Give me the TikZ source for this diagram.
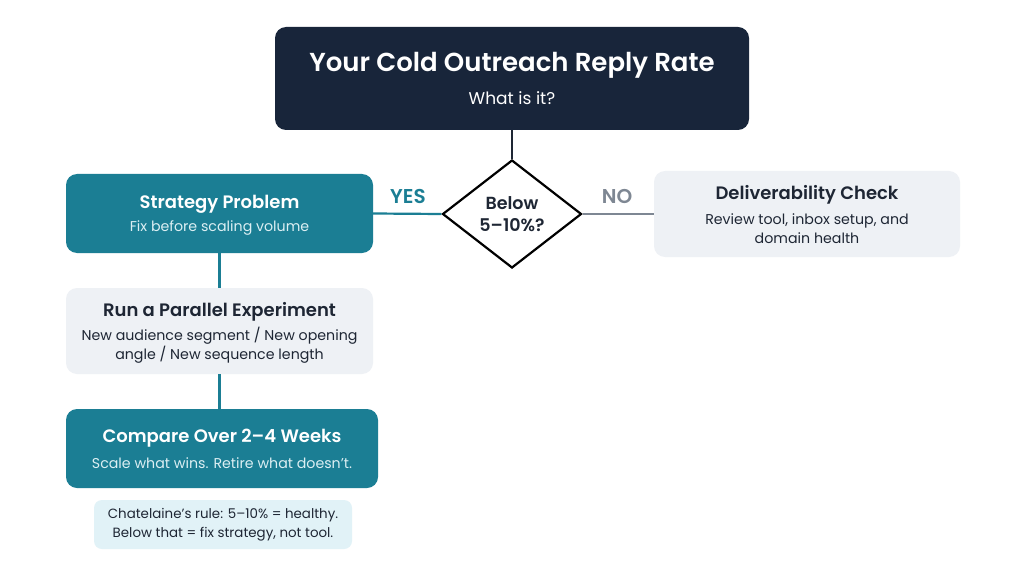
\documentclass[tikz,border=0pt]{standalone}
\usepackage{fontspec}
\setmainfont{Poppins}[BoldFont={Poppins SemiBold}]
\usetikzlibrary{shapes.geometric}
\definecolor{navy}{HTML}{18253A}
\definecolor{teal}{HTML}{1B7E94}
\definecolor{lightbox}{HTML}{EEF1F5}
\definecolor{notebox}{HTML}{E1F2F7}
\definecolor{darktext}{HTML}{1E2634}
\definecolor{grayline}{HTML}{7E8793}
\definecolor{tealtext}{HTML}{DCEFF3}
\tikzset{
  x=1pt, y=-1pt,
  box/.style={rounded corners=11pt, inner sep=0pt, align=center},
  darkbox/.style={box, fill=navy, text=white},
  tealbox/.style={box, fill=teal, text=white},
  graybox/.style={box, fill=lightbox, text=darktext},
  nbox/.style={box, fill=notebox, text=darktext, rounded corners=8pt},
  conn/.style={line width=2.2pt},
  ttl/.style={font=\fontsize{18}{22}\selectfont\bfseries, align=center},
  sub/.style={font=\fontsize{14.2}{18.5}\selectfont, align=center},
}
\begin{document}
\begin{tikzpicture}
\useasboundingbox[fill=white] (0,0) rectangle (1024,572);
% title
\node[darkbox, minimum width=474pt, minimum height=103pt] (top) at (512,78.5) {};
\node[text=white, font=\fontsize{26}{30}\selectfont\bfseries] (toptitle) at (512,65) {Your Cold Outreach Reply Rate};
\node[text=white, font=\fontsize{17}{20}\selectfont] (topsub) at (512,98) {What is it?};
% diamond
\node[diamond, draw=black, line width=2.2pt, fill=white, minimum width=139pt, minimum height=108pt, inner sep=0pt, align=center, font=\fontsize{17.5}{22}\selectfont\bfseries, text=darktext] (dec) at (512,214) {Below\\5--10\%?};
% strategy
\node[tealbox, minimum width=307pt, minimum height=79pt] (strat) at (219.5,213.5) {};
\node[ttl, text=white] (stratt) at (219.5,204) {Strategy Problem};
\node[sub, text=tealtext] (strats) at (219.5,228) {Fix before scaling volume};
% deliverability
\node[graybox, minimum width=306pt, minimum height=86pt] (deliv) at (807,214) {};
\node[ttl, text=darktext] (delivt) at (807,195) {Deliverability Check};
\node[sub, text=darktext] (delivs) at (807,228.5) {Review tool, inbox setup, and\\domain health};
% experiment
\node[graybox, minimum width=307pt, minimum height=86pt] (exp) at (219.5,331) {};
\node[ttl, text=darktext] (expt) at (219.5,312) {Run a Parallel Experiment};
\node[sub, text=darktext] (exps) at (219.5,345) {New audience segment / New opening\\angle / New sequence length};
% compare
\node[tealbox, minimum width=312pt, minimum height=79pt] (cmp) at (222,448.5) {};
\node[ttl, text=white] (cmpt) at (222,438) {Compare Over 2--4 Weeks};
\node[sub, text=tealtext] (cmps) at (222,463) {Scale what wins. Retire what doesn’t.};
% note
\node[nbox, minimum width=258pt, minimum height=49pt, font=\fontsize{13.4}{19}\selectfont] (note) at (223,524.5) {Chatelaine’s rule: 5--10\% = healthy.\\Below that = fix strategy, not tool.};
% connectors
\draw[conn, color=darktext] (top.south) -- (dec.north);
\draw[conn, color=teal] (dec.west) -- (strat.east);
\draw[conn, color=grayline] (dec.east) -- (deliv.west);
\draw[conn, color=teal] (strat.south) -- (exp.north);
\draw[conn, color=teal] (exp.south) -- (cmp.north -| exp.south);
\node[text=teal, font=\fontsize{20}{24}\selectfont\bfseries] (yes) at (408,196) {YES};
\node[text=grayline, font=\fontsize{20}{24}\selectfont\bfseries] (no) at (617,196) {NO};
\end{tikzpicture}
\end{document}
